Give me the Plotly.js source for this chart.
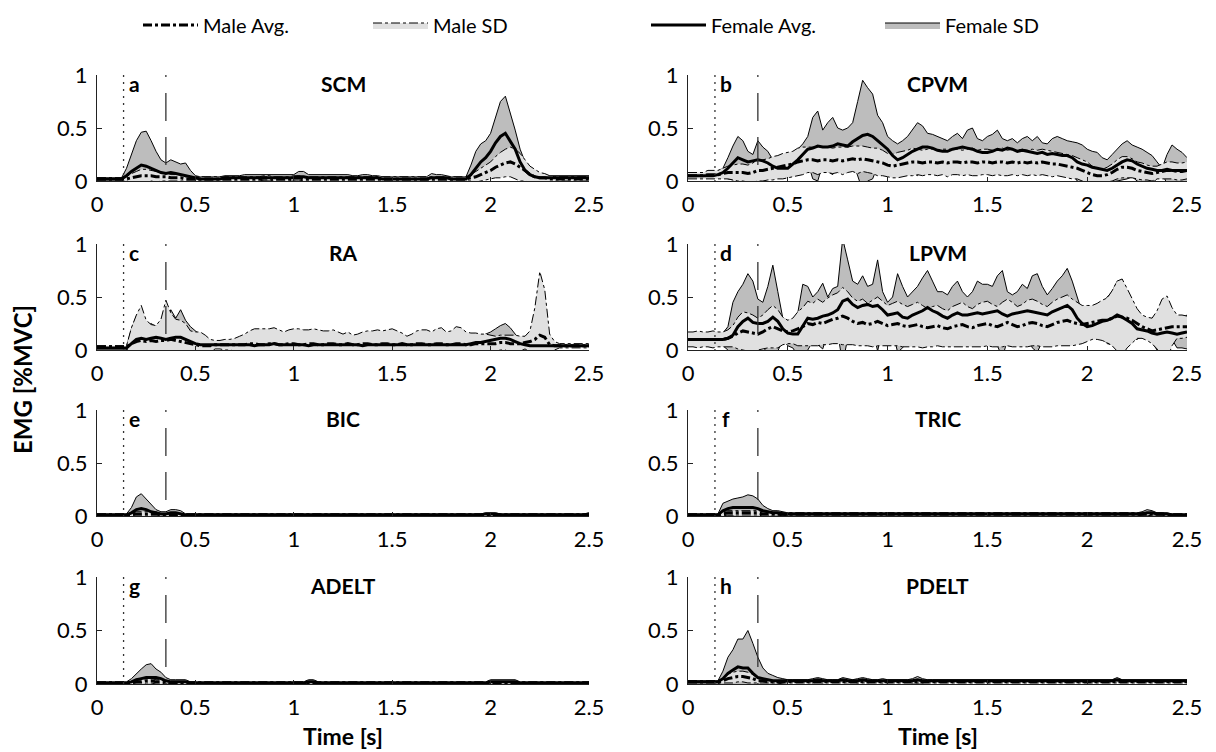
<!DOCTYPE html>
<html><head><meta charset="utf-8">
<script src="https://cdn.plot.ly/plotly-3.0.1.min.js"></script>
<style>html,body{margin:0;padding:0;background:#fff;}#chart{width:1216px;height:752px;}</style>
</head><body><div id="chart"></div>
<script>
const time = [0,0.025,0.05,0.075,0.1,0.125,0.15,0.175,0.2,0.225,
0.25,0.275,0.3,0.325,0.35,0.375,0.4,0.425,0.45,0.475,
0.5,0.525,0.55,0.575,0.6,0.625,0.65,0.675,0.7,0.725,
0.75,0.775,0.8,0.825,0.85,0.875,0.9,0.925,0.95,0.975,
1,1.025,1.05,1.075,1.1,1.125,1.15,1.175,1.2,1.225,
1.25,1.275,1.3,1.325,1.35,1.375,1.4,1.425,1.45,1.475,
1.5,1.525,1.55,1.575,1.6,1.625,1.65,1.675,1.7,1.725,
1.75,1.775,1.8,1.825,1.85,1.875,1.9,1.925,1.95,1.975,
2,2.025,2.05,2.075,2.1,2.125,2.15,2.175,2.2,2.225,
2.25,2.275,2.3,2.325,2.35,2.375,2.4,2.425,2.45,2.475,
2.5];

const muscles = ['SCM','CPVM','RA','LPVM','BIC','TRIC','ADELT','PDELT'];
const panelLetters = ['a','b','c','d','e','f','g','h'];
const seriesNames = ['Male Avg.','Male SD','Female Avg.','Female SD'];
const xTickVals = [0,0.5,1,1.5,2,2.5];
const xTickText = ['0','0.5','1','1.5','2','2.5'];
const yTickVals = [0,0.5,1];
const yTickText = ['0','0.5','1'];
const eventTimes = [0.135, 0.35];

// ---- SCM ----
const scmFemAvg = [0.02,0.02,0.02,0.02,0.02,0.02,0.05,0.09,0.12,0.15,
0.14,0.12,0.10,0.08,0.07,0.08,0.07,0.06,0.05,0.04,
0.03,0.02,0.02,0.02,0.02,0.02,0.03,0.03,0.03,0.03,
0.03,0.03,0.03,0.03,0.03,0.03,0.03,0.03,0.03,0.03,
0.03,0.04,0.04,0.03,0.03,0.03,0.03,0.03,0.03,0.03,
0.03,0.03,0.03,0.03,0.03,0.03,0.03,0.03,0.02,0.02,
0.02,0.02,0.02,0.02,0.02,0.02,0.02,0.02,0.03,0.03,
0.03,0.03,0.02,0.02,0.02,0.02,0.06,0.12,0.18,0.22,
0.28,0.36,0.42,0.45,0.38,0.30,0.18,0.10,0.06,0.04,
0.03,0.03,0.03,0.03,0.03,0.03,0.03,0.03,0.03,0.03,
0.03];
const scmFemSD = [0.01,0.01,0.01,0.01,0.01,0.01,0.07,0.16,0.26,0.31,
0.33,0.26,0.18,0.12,0.10,0.12,0.11,0.10,0.12,0.06,
0.02,0.02,0.02,0.02,0.02,0.02,0.02,0.02,0.02,0.02,
0.03,0.03,0.03,0.03,0.03,0.03,0.03,0.03,0.03,0.03,
0.03,0.05,0.05,0.03,0.03,0.03,0.03,0.03,0.03,0.03,
0.03,0.03,0.02,0.02,0.03,0.03,0.02,0.02,0.02,0.02,
0.02,0.02,0.02,0.02,0.02,0.02,0.02,0.02,0.04,0.03,
0.03,0.02,0.02,0.02,0.02,0.02,0.09,0.16,0.17,0.16,
0.17,0.24,0.33,0.35,0.27,0.18,0.12,0.08,0.06,0.04,
0.03,0.02,0.02,0.02,0.02,0.02,0.02,0.02,0.02,0.02,
0.02];
const scmMaleAvg = [0.02,0.02,0.02,0.02,0.02,0.02,0.02,0.03,0.04,0.05,
0.05,0.05,0.04,0.04,0.04,0.03,0.03,0.03,0.02,0.02,
0.02,0.02,0.02,0.02,0.02,0.02,0.02,0.02,0.02,0.02,
0.02,0.02,0.02,0.02,0.03,0.03,0.02,0.02,0.02,0.02,
0.03,0.03,0.02,0.02,0.02,0.02,0.02,0.02,0.02,0.02,
0.02,0.02,0.02,0.02,0.02,0.02,0.02,0.02,0.02,0.02,
0.02,0.02,0.02,0.02,0.02,0.02,0.02,0.02,0.02,0.02,
0.02,0.02,0.02,0.02,0.02,0.02,0.03,0.04,0.06,0.08,
0.10,0.13,0.15,0.17,0.18,0.16,0.13,0.10,0.06,0.04,
0.03,0.03,0.02,0.02,0.02,0.02,0.02,0.02,0.02,0.02,
0.02];
const scmMaleSD = [0.01,0.01,0.01,0.01,0.01,0.01,0.02,0.04,0.05,0.06,
0.06,0.05,0.05,0.04,0.04,0.03,0.03,0.03,0.02,0.02,
0.02,0.02,0.02,0.02,0.02,0.02,0.02,0.02,0.02,0.02,
0.02,0.02,0.02,0.02,0.02,0.02,0.02,0.02,0.02,0.02,
0.02,0.02,0.02,0.02,0.02,0.02,0.02,0.02,0.02,0.02,
0.02,0.02,0.02,0.02,0.02,0.02,0.02,0.02,0.02,0.02,
0.02,0.02,0.02,0.02,0.02,0.02,0.02,0.02,0.02,0.02,
0.02,0.02,0.02,0.02,0.02,0.02,0.03,0.05,0.06,0.07,
0.08,0.10,0.12,0.13,0.14,0.14,0.13,0.10,0.08,0.07,
0.05,0.04,0.03,0.02,0.02,0.02,0.02,0.02,0.02,0.02,
0.02];

// ---- CPVM ----
const cpvmFemAvg = [0.05,0.05,0.05,0.05,0.05,0.05,0.06,0.08,0.12,0.17,
0.22,0.20,0.18,0.19,0.20,0.19,0.17,0.14,0.12,0.12,
0.12,0.16,0.20,0.25,0.30,0.31,0.33,0.32,0.32,0.33,
0.35,0.34,0.33,0.37,0.40,0.43,0.44,0.42,0.38,0.34,
0.30,0.24,0.20,0.22,0.25,0.28,0.30,0.32,0.32,0.31,
0.29,0.28,0.28,0.30,0.31,0.32,0.31,0.30,0.28,0.27,
0.27,0.28,0.30,0.29,0.31,0.30,0.28,0.29,0.28,0.27,
0.26,0.27,0.25,0.26,0.25,0.24,0.24,0.22,0.18,0.16,
0.15,0.13,0.12,0.11,0.10,0.12,0.15,0.18,0.20,0.19,
0.16,0.14,0.12,0.11,0.10,0.10,0.11,0.10,0.10,0.10,
0.10];
const cpvmFemSD = [0.02,0.02,0.02,0.02,0.02,0.02,0.03,0.04,0.10,0.16,
0.20,0.18,0.10,0.06,0.18,0.13,0.11,0.06,0.06,0.06,
0.08,0.09,0.10,0.10,0.12,0.29,0.33,0.16,0.23,0.27,
0.15,0.14,0.17,0.18,0.35,0.52,0.44,0.40,0.24,0.21,
0.12,0.14,0.15,0.16,0.17,0.20,0.25,0.20,0.13,0.13,
0.13,0.12,0.10,0.12,0.14,0.08,0.17,0.20,0.12,0.11,
0.15,0.16,0.18,0.11,0.07,0.10,0.08,0.11,0.14,0.11,
0.16,0.09,0.10,0.14,0.17,0.16,0.14,0.15,0.18,0.18,
0.15,0.15,0.15,0.11,0.10,0.13,0.15,0.17,0.18,0.15,
0.16,0.16,0.15,0.13,0.08,0.02,0.14,0.24,0.20,0.17,
0.12];
const cpvmMaleAvg = [0.05,0.05,0.05,0.05,0.06,0.06,0.06,0.07,0.08,0.08,
0.08,0.08,0.07,0.08,0.10,0.10,0.11,0.12,0.13,0.14,
0.15,0.16,0.18,0.19,0.20,0.20,0.19,0.20,0.20,0.19,
0.20,0.19,0.20,0.21,0.20,0.21,0.20,0.19,0.18,0.17,
0.15,0.14,0.15,0.16,0.17,0.18,0.18,0.17,0.18,0.18,
0.17,0.18,0.17,0.18,0.18,0.17,0.18,0.18,0.17,0.18,
0.18,0.17,0.18,0.18,0.17,0.18,0.17,0.18,0.17,0.18,
0.17,0.18,0.17,0.16,0.16,0.15,0.14,0.13,0.12,0.10,
0.08,0.06,0.05,0.05,0.06,0.08,0.11,0.13,0.13,0.12,
0.10,0.09,0.08,0.07,0.08,0.09,0.10,0.10,0.09,0.09,
0.10];
const cpvmMaleSD = [0.03,0.03,0.03,0.03,0.04,0.04,0.04,0.05,0.06,0.07,
0.08,0.08,0.08,0.09,0.10,0.10,0.10,0.11,0.11,0.12,
0.12,0.12,0.13,0.13,0.12,0.12,0.13,0.12,0.12,0.12,
0.12,0.13,0.12,0.12,0.13,0.12,0.12,0.12,0.13,0.12,
0.11,0.11,0.12,0.12,0.12,0.13,0.12,0.12,0.12,0.12,
0.12,0.12,0.13,0.12,0.12,0.12,0.12,0.13,0.12,0.12,
0.12,0.12,0.12,0.13,0.12,0.12,0.12,0.12,0.12,0.12,
0.12,0.12,0.12,0.12,0.11,0.11,0.11,0.11,0.10,0.10,
0.10,0.08,0.07,0.06,0.07,0.08,0.09,0.10,0.10,0.09,
0.08,0.08,0.07,0.07,0.06,0.07,0.08,0.08,0.08,0.08,
0.08];

// ---- RA ----
const raFemAvg = [0.02,0.02,0.02,0.02,0.02,0.02,0.02,0.06,0.10,0.11,
0.10,0.11,0.12,0.11,0.10,0.11,0.12,0.12,0.10,0.08,
0.06,0.05,0.05,0.05,0.05,0.05,0.05,0.05,0.05,0.05,
0.05,0.05,0.04,0.05,0.05,0.05,0.06,0.05,0.05,0.05,
0.05,0.05,0.05,0.04,0.05,0.05,0.05,0.05,0.05,0.05,
0.05,0.05,0.05,0.05,0.04,0.05,0.05,0.05,0.05,0.05,
0.05,0.05,0.05,0.05,0.05,0.05,0.05,0.05,0.05,0.05,
0.05,0.05,0.05,0.05,0.05,0.05,0.06,0.07,0.07,0.08,
0.09,0.10,0.11,0.11,0.10,0.08,0.06,0.05,0.04,0.04,
0.04,0.04,0.04,0.04,0.04,0.04,0.04,0.04,0.04,0.04,
0.04];
const raFemSD = [0.01,0.01,0.01,0.01,0.01,0.01,0.01,0.14,0.22,0.19,
0.12,0.14,0.10,0.17,0.15,0.27,0.18,0.26,0.18,0.14,
0.12,0.09,0.03,0.03,0.02,0.03,0.03,0.02,0.03,0.03,
0.03,0.02,0.03,0.03,0.02,0.03,0.03,0.03,0.02,0.03,
0.03,0.03,0.02,0.03,0.03,0.03,0.02,0.03,0.03,0.03,
0.03,0.02,0.03,0.03,0.03,0.02,0.03,0.03,0.03,0.02,
0.03,0.03,0.02,0.03,0.03,0.03,0.03,0.02,0.03,0.03,
0.03,0.03,0.03,0.03,0.03,0.03,0.04,0.05,0.06,0.07,
0.08,0.10,0.12,0.14,0.11,0.07,0.04,0.02,0.02,0.01,
0.01,0.01,0.01,0.01,0.01,0.01,0.01,0.01,0.01,0.01,
0.01];
const raMaleAvg = [0.03,0.03,0.03,0.03,0.03,0.03,0.03,0.06,0.08,0.09,
0.08,0.09,0.08,0.09,0.09,0.10,0.09,0.08,0.07,0.06,
0.05,0.04,0.04,0.04,0.05,0.05,0.05,0.05,0.05,0.05,
0.05,0.06,0.06,0.05,0.05,0.06,0.06,0.05,0.05,0.06,
0.06,0.05,0.05,0.06,0.06,0.05,0.05,0.06,0.06,0.05,
0.05,0.06,0.05,0.05,0.06,0.06,0.05,0.05,0.06,0.06,
0.05,0.05,0.06,0.05,0.05,0.06,0.06,0.05,0.05,0.06,
0.06,0.05,0.05,0.06,0.06,0.05,0.05,0.06,0.06,0.06,
0.06,0.06,0.07,0.07,0.06,0.06,0.06,0.07,0.08,0.10,
0.14,0.12,0.05,0.04,0.04,0.04,0.04,0.04,0.04,0.04,
0.04];
const raMaleSD = [0.01,0.01,0.01,0.01,0.01,0.01,0.01,0.15,0.25,0.33,
0.20,0.15,0.15,0.20,0.38,0.25,0.20,0.20,0.18,0.12,
0.12,0.13,0.10,0.06,0.04,0.04,0.05,0.05,0.06,0.08,
0.10,0.12,0.14,0.15,0.15,0.14,0.15,0.14,0.12,0.13,
0.14,0.15,0.14,0.13,0.14,0.14,0.13,0.12,0.13,0.12,
0.10,0.11,0.09,0.10,0.11,0.12,0.13,0.14,0.12,0.13,
0.15,0.13,0.10,0.08,0.10,0.12,0.13,0.14,0.12,0.14,
0.15,0.12,0.13,0.16,0.15,0.12,0.11,0.10,0.09,0.09,
0.08,0.07,0.07,0.07,0.08,0.08,0.07,0.06,0.10,0.30,
0.60,0.45,0.10,0.04,0.02,0.02,0.02,0.02,0.02,0.02,
0.02];

// ---- LPVM ----
const lpvmFemAvg = [0.10,0.10,0.10,0.10,0.10,0.10,0.10,0.10,0.11,0.14,
0.22,0.27,0.30,0.26,0.25,0.25,0.27,0.31,0.27,0.20,
0.16,0.15,0.15,0.22,0.30,0.29,0.30,0.32,0.33,0.35,
0.38,0.46,0.48,0.43,0.40,0.42,0.43,0.41,0.42,0.38,
0.33,0.34,0.35,0.31,0.30,0.33,0.35,0.37,0.40,0.37,
0.35,0.32,0.30,0.33,0.35,0.33,0.33,0.34,0.35,0.34,
0.35,0.36,0.37,0.34,0.32,0.34,0.35,0.36,0.37,0.36,
0.35,0.34,0.33,0.36,0.38,0.40,0.42,0.38,0.30,0.25,
0.22,0.23,0.25,0.27,0.28,0.30,0.33,0.31,0.28,0.25,
0.20,0.19,0.18,0.16,0.15,0.16,0.17,0.16,0.15,0.16,
0.17];
const lpvmFemSD = [0.05,0.06,0.05,0.06,0.05,0.06,0.05,0.06,0.11,0.31,
0.33,0.35,0.42,0.39,0.23,0.20,0.33,0.49,0.28,0.10,
0.12,0.13,0.20,0.40,0.30,0.21,0.25,0.31,0.17,0.23,
0.22,0.59,0.37,0.22,0.22,0.28,0.17,0.21,0.43,0.17,
0.12,0.16,0.37,0.29,0.20,0.22,0.25,0.31,0.35,0.28,
0.20,0.23,0.22,0.27,0.30,0.22,0.17,0.21,0.30,0.28,
0.27,0.24,0.33,0.41,0.23,0.18,0.20,0.26,0.21,0.34,
0.37,0.26,0.19,0.22,0.27,0.30,0.35,0.27,0.20,0.10,
0.08,0.10,0.10,0.15,0.22,0.25,0.32,0.31,0.24,0.15,
0.10,0.06,0.02,0.09,0.15,0.12,0.03,0.06,0.13,0.14,
0.16];
const lpvmMaleAvg = [0.10,0.10,0.10,0.10,0.10,0.10,0.10,0.10,0.11,0.13,
0.16,0.18,0.17,0.16,0.15,0.17,0.20,0.22,0.20,0.18,
0.17,0.18,0.20,0.22,0.25,0.24,0.26,0.25,0.27,0.29,
0.30,0.32,0.30,0.27,0.25,0.26,0.24,0.25,0.27,0.25,
0.23,0.24,0.25,0.23,0.22,0.23,0.24,0.22,0.21,0.22,
0.23,0.21,0.20,0.22,0.23,0.24,0.22,0.21,0.23,0.24,
0.25,0.23,0.22,0.24,0.26,0.24,0.22,0.23,0.25,0.26,
0.25,0.23,0.22,0.24,0.26,0.27,0.28,0.26,0.25,0.24,
0.25,0.26,0.27,0.28,0.28,0.30,0.32,0.31,0.30,0.28,
0.25,0.22,0.20,0.18,0.19,0.20,0.21,0.22,0.22,0.22,
0.22];
const lpvmMaleSD = [0.07,0.07,0.08,0.07,0.07,0.08,0.07,0.07,0.08,0.10,
0.15,0.18,0.18,0.17,0.15,0.16,0.18,0.20,0.18,0.13,
0.11,0.12,0.16,0.18,0.21,0.20,0.22,0.20,0.22,0.23,
0.24,0.27,0.25,0.22,0.21,0.22,0.20,0.22,0.23,0.21,
0.19,0.20,0.21,0.20,0.19,0.20,0.21,0.20,0.18,0.19,
0.19,0.18,0.17,0.19,0.20,0.21,0.19,0.18,0.20,0.21,
0.21,0.20,0.19,0.21,0.22,0.21,0.19,0.20,0.22,0.22,
0.21,0.20,0.19,0.21,0.22,0.23,0.24,0.22,0.20,0.18,
0.17,0.16,0.17,0.19,0.21,0.26,0.33,0.36,0.28,0.21,
0.14,0.11,0.11,0.12,0.18,0.28,0.30,0.18,0.11,0.11,
0.10];

// ---- BIC ----
const bicFemAvg = [0.01,0.01,0.01,0.01,0.01,0.01,0.01,0.03,0.06,0.07,
0.06,0.04,0.03,0.02,0.02,0.03,0.03,0.02,0.01,0.01,
0.01,0.01,0.01,0.01,0.01,0.01,0.01,0.01,0.01,0.01,
0.01,0.01,0.01,0.01,0.01,0.01,0.01,0.01,0.01,0.01,
0.01,0.01,0.01,0.01,0.01,0.01,0.01,0.01,0.01,0.01,
0.01,0.01,0.01,0.01,0.01,0.01,0.01,0.01,0.01,0.01,
0.01,0.01,0.01,0.01,0.01,0.01,0.01,0.01,0.01,0.01,
0.01,0.01,0.01,0.01,0.01,0.01,0.01,0.01,0.01,0.02,
0.02,0.02,0.01,0.01,0.01,0.01,0.01,0.01,0.01,0.01,
0.01,0.01,0.01,0.01,0.01,0.01,0.01,0.01,0.01,0.01,
0.02];
const bicFemSD = [0.01,0.01,0.01,0.01,0.01,0.01,0.01,0.05,0.12,0.14,
0.10,0.06,0.03,0.02,0.02,0.03,0.03,0.03,0.01,0.01,
0.01,0.01,0.01,0.01,0.01,0.01,0.01,0.01,0.01,0.01,
0.01,0.01,0.01,0.01,0.01,0.01,0.01,0.01,0.01,0.01,
0.01,0.01,0.01,0.01,0.01,0.01,0.01,0.01,0.01,0.01,
0.01,0.01,0.01,0.01,0.01,0.01,0.01,0.01,0.01,0.01,
0.01,0.01,0.01,0.01,0.01,0.01,0.01,0.01,0.01,0.01,
0.01,0.01,0.01,0.01,0.01,0.01,0.01,0.01,0.01,0.01,
0.01,0.01,0.01,0.01,0.01,0.01,0.01,0.01,0.01,0.01,
0.01,0.01,0.01,0.01,0.01,0.01,0.01,0.01,0.01,0.01,
0.01];
const bicMaleAvg = [0.01,0.01,0.01,0.01,0.01,0.01,0.01,0.01,0.02,0.02,
0.02,0.02,0.02,0.01,0.01,0.01,0.01,0.01,0.01,0.01,
0.01,0.01,0.01,0.01,0.01,0.01,0.01,0.01,0.01,0.01,
0.01,0.01,0.01,0.01,0.01,0.01,0.01,0.01,0.01,0.01,
0.01,0.01,0.01,0.01,0.01,0.01,0.01,0.01,0.01,0.01,
0.01,0.01,0.01,0.01,0.01,0.01,0.01,0.01,0.01,0.01,
0.01,0.01,0.01,0.01,0.01,0.01,0.01,0.01,0.01,0.01,
0.01,0.01,0.01,0.01,0.01,0.01,0.01,0.01,0.01,0.01,
0.01,0.01,0.01,0.01,0.01,0.01,0.01,0.01,0.01,0.01,
0.01,0.01,0.01,0.01,0.01,0.01,0.01,0.01,0.01,0.01,
0.01];
const bicMaleSD = [0.01,0.01,0.01,0.01,0.01,0.01,0.01,0.01,0.02,0.02,
0.02,0.02,0.02,0.01,0.01,0.01,0.01,0.01,0.01,0.01,
0.01,0.01,0.01,0.01,0.01,0.01,0.01,0.01,0.01,0.01,
0.01,0.01,0.01,0.01,0.01,0.01,0.01,0.01,0.01,0.01,
0.01,0.01,0.01,0.01,0.01,0.01,0.01,0.01,0.01,0.01,
0.01,0.01,0.01,0.01,0.01,0.01,0.01,0.01,0.01,0.01,
0.01,0.01,0.01,0.01,0.01,0.01,0.01,0.01,0.01,0.01,
0.01,0.01,0.01,0.01,0.01,0.01,0.01,0.01,0.01,0.01,
0.01,0.01,0.01,0.01,0.01,0.01,0.01,0.01,0.01,0.01,
0.01,0.01,0.01,0.01,0.01,0.01,0.01,0.01,0.01,0.01,
0.01];

// ---- TRIC ----
const tricFemAvg = [0.01,0.01,0.01,0.01,0.01,0.01,0.01,0.05,0.07,0.08,
0.08,0.08,0.08,0.08,0.07,0.05,0.04,0.03,0.03,0.02,
0.02,0.02,0.02,0.02,0.02,0.02,0.02,0.02,0.02,0.02,
0.02,0.02,0.02,0.02,0.02,0.02,0.02,0.02,0.02,0.02,
0.02,0.02,0.02,0.02,0.02,0.02,0.02,0.02,0.02,0.02,
0.02,0.02,0.02,0.02,0.02,0.02,0.02,0.02,0.02,0.02,
0.02,0.02,0.02,0.02,0.02,0.02,0.02,0.02,0.02,0.02,
0.02,0.02,0.02,0.02,0.02,0.02,0.02,0.02,0.02,0.02,
0.02,0.02,0.02,0.02,0.02,0.02,0.02,0.02,0.02,0.02,
0.02,0.02,0.03,0.03,0.02,0.02,0.02,0.01,0.01,0.01,
0.01];
const tricFemSD = [0.01,0.01,0.01,0.01,0.01,0.01,0.01,0.07,0.07,0.08,
0.09,0.10,0.12,0.11,0.09,0.05,0.03,0.02,0.02,0.02,
0.01,0.01,0.01,0.01,0.01,0.01,0.01,0.01,0.01,0.01,
0.01,0.01,0.01,0.01,0.01,0.01,0.01,0.01,0.01,0.01,
0.01,0.01,0.01,0.01,0.01,0.01,0.01,0.01,0.01,0.01,
0.01,0.01,0.01,0.01,0.01,0.01,0.01,0.01,0.01,0.01,
0.01,0.01,0.01,0.01,0.01,0.01,0.01,0.01,0.01,0.01,
0.01,0.01,0.01,0.01,0.01,0.01,0.01,0.01,0.01,0.01,
0.01,0.01,0.01,0.01,0.01,0.01,0.01,0.01,0.01,0.01,
0.01,0.02,0.03,0.02,0.01,0.01,0.01,0.01,0.01,0.01,
0.01];
const tricMaleAvg = [0.01,0.01,0.01,0.01,0.01,0.01,0.01,0.02,0.03,0.03,
0.03,0.03,0.03,0.03,0.03,0.02,0.02,0.02,0.02,0.02,
0.02,0.02,0.02,0.02,0.02,0.02,0.02,0.02,0.02,0.02,
0.02,0.02,0.02,0.02,0.02,0.02,0.02,0.02,0.02,0.02,
0.02,0.02,0.02,0.02,0.02,0.02,0.02,0.02,0.02,0.02,
0.02,0.02,0.02,0.02,0.02,0.02,0.02,0.02,0.02,0.02,
0.02,0.02,0.02,0.02,0.02,0.02,0.02,0.02,0.02,0.02,
0.02,0.02,0.02,0.02,0.02,0.02,0.02,0.02,0.02,0.02,
0.02,0.02,0.02,0.02,0.02,0.02,0.02,0.02,0.02,0.02,
0.02,0.02,0.02,0.02,0.02,0.02,0.01,0.01,0.01,0.01,
0.01];
const tricMaleSD = [0.01,0.01,0.01,0.01,0.01,0.01,0.01,0.02,0.02,0.02,
0.02,0.02,0.02,0.02,0.02,0.02,0.02,0.01,0.01,0.01,
0.01,0.01,0.01,0.01,0.01,0.01,0.01,0.01,0.01,0.01,
0.01,0.01,0.01,0.01,0.01,0.01,0.01,0.01,0.01,0.01,
0.01,0.01,0.01,0.01,0.01,0.01,0.01,0.01,0.01,0.01,
0.01,0.01,0.01,0.01,0.01,0.01,0.01,0.01,0.01,0.01,
0.01,0.01,0.01,0.01,0.01,0.01,0.01,0.01,0.01,0.01,
0.01,0.01,0.01,0.01,0.01,0.01,0.01,0.01,0.01,0.01,
0.01,0.01,0.01,0.01,0.01,0.01,0.01,0.01,0.01,0.01,
0.01,0.01,0.01,0.01,0.01,0.01,0.01,0.01,0.01,0.01,
0.01];

// ---- ADELT ----
const adeltFemAvg = [0.01,0.01,0.01,0.01,0.01,0.01,0.01,0.02,0.04,0.05,
0.06,0.06,0.06,0.05,0.03,0.02,0.02,0.02,0.02,0.01,
0.01,0.01,0.01,0.01,0.01,0.01,0.01,0.01,0.01,0.01,
0.01,0.01,0.01,0.01,0.01,0.01,0.01,0.01,0.01,0.01,
0.01,0.01,0.01,0.02,0.02,0.01,0.01,0.01,0.01,0.01,
0.01,0.01,0.01,0.01,0.01,0.01,0.01,0.01,0.01,0.01,
0.01,0.01,0.01,0.01,0.01,0.01,0.01,0.01,0.01,0.01,
0.01,0.01,0.01,0.01,0.01,0.01,0.01,0.01,0.01,0.01,
0.02,0.02,0.02,0.02,0.02,0.02,0.01,0.01,0.01,0.01,
0.01,0.01,0.01,0.01,0.01,0.01,0.01,0.01,0.01,0.01,
0.01];
const adeltFemSD = [0.01,0.01,0.01,0.01,0.01,0.01,0.01,0.03,0.06,0.09,
0.12,0.13,0.08,0.06,0.03,0.02,0.02,0.02,0.02,0.01,
0.01,0.01,0.01,0.01,0.01,0.01,0.01,0.01,0.01,0.01,
0.01,0.01,0.01,0.01,0.01,0.01,0.01,0.01,0.01,0.01,
0.01,0.01,0.01,0.02,0.02,0.01,0.01,0.01,0.01,0.01,
0.01,0.01,0.01,0.01,0.01,0.01,0.01,0.01,0.01,0.01,
0.01,0.01,0.01,0.01,0.01,0.01,0.01,0.01,0.01,0.01,
0.01,0.01,0.01,0.01,0.01,0.01,0.01,0.01,0.01,0.01,
0.02,0.02,0.02,0.02,0.02,0.02,0.01,0.01,0.01,0.01,
0.01,0.01,0.01,0.01,0.01,0.01,0.01,0.01,0.01,0.01,
0.01];
const adeltMaleAvg = [0.01,0.01,0.01,0.01,0.01,0.01,0.01,0.01,0.02,0.02,
0.03,0.03,0.02,0.02,0.02,0.01,0.01,0.01,0.01,0.01,
0.01,0.01,0.01,0.01,0.01,0.01,0.01,0.01,0.01,0.01,
0.01,0.01,0.01,0.01,0.01,0.01,0.01,0.01,0.01,0.01,
0.01,0.01,0.01,0.01,0.01,0.01,0.01,0.01,0.01,0.01,
0.01,0.01,0.01,0.01,0.01,0.01,0.01,0.01,0.01,0.01,
0.01,0.01,0.01,0.01,0.01,0.01,0.01,0.01,0.01,0.01,
0.01,0.01,0.01,0.01,0.01,0.01,0.01,0.01,0.01,0.01,
0.01,0.01,0.01,0.01,0.01,0.01,0.01,0.01,0.01,0.01,
0.01,0.01,0.01,0.01,0.01,0.01,0.01,0.01,0.01,0.01,
0.01];
const adeltMaleSD = [0.01,0.01,0.01,0.01,0.01,0.01,0.01,0.01,0.02,0.02,
0.02,0.02,0.02,0.02,0.01,0.01,0.01,0.01,0.01,0.01,
0.01,0.01,0.01,0.01,0.01,0.01,0.01,0.01,0.01,0.01,
0.01,0.01,0.01,0.01,0.01,0.01,0.01,0.01,0.01,0.01,
0.01,0.01,0.01,0.01,0.01,0.01,0.01,0.01,0.01,0.01,
0.01,0.01,0.01,0.01,0.01,0.01,0.01,0.01,0.01,0.01,
0.01,0.01,0.01,0.01,0.01,0.01,0.01,0.01,0.01,0.01,
0.01,0.01,0.01,0.01,0.01,0.01,0.01,0.01,0.01,0.01,
0.01,0.01,0.01,0.01,0.01,0.01,0.01,0.01,0.01,0.01,
0.01,0.01,0.01,0.01,0.01,0.01,0.01,0.01,0.01,0.01,
0.01];

// ---- PDELT ----
const pdeltFemAvg = [0.02,0.02,0.02,0.02,0.02,0.02,0.02,0.05,0.10,0.13,
0.16,0.15,0.15,0.10,0.06,0.05,0.04,0.03,0.03,0.03,
0.03,0.03,0.03,0.03,0.03,0.03,0.04,0.03,0.03,0.03,
0.03,0.04,0.03,0.03,0.03,0.04,0.03,0.03,0.03,0.03,
0.03,0.03,0.03,0.03,0.03,0.03,0.04,0.03,0.03,0.03,
0.03,0.03,0.03,0.03,0.03,0.03,0.03,0.03,0.03,0.03,
0.03,0.03,0.03,0.03,0.03,0.03,0.03,0.03,0.03,0.03,
0.03,0.03,0.03,0.03,0.03,0.03,0.03,0.03,0.03,0.03,
0.03,0.03,0.03,0.03,0.03,0.03,0.04,0.03,0.03,0.03,
0.03,0.03,0.03,0.03,0.03,0.03,0.03,0.03,0.03,0.03,
0.03];
const pdeltFemSD = [0.01,0.01,0.01,0.01,0.01,0.01,0.01,0.07,0.15,0.19,
0.26,0.27,0.35,0.28,0.19,0.10,0.06,0.05,0.03,0.02,
0.01,0.01,0.01,0.01,0.01,0.02,0.02,0.02,0.01,0.01,
0.01,0.02,0.02,0.01,0.02,0.02,0.02,0.01,0.01,0.02,
0.01,0.01,0.01,0.01,0.01,0.02,0.03,0.02,0.01,0.01,
0.01,0.01,0.01,0.01,0.01,0.01,0.01,0.01,0.01,0.01,
0.01,0.01,0.01,0.01,0.01,0.01,0.01,0.01,0.01,0.01,
0.01,0.01,0.01,0.01,0.01,0.01,0.01,0.01,0.01,0.01,
0.01,0.01,0.01,0.01,0.01,0.01,0.02,0.01,0.01,0.01,
0.01,0.01,0.01,0.01,0.01,0.01,0.01,0.01,0.01,0.01,
0.01];
const pdeltMaleAvg = [0.02,0.02,0.02,0.02,0.02,0.02,0.02,0.03,0.05,0.06,
0.07,0.07,0.06,0.05,0.03,0.03,0.02,0.02,0.02,0.02,
0.02,0.02,0.02,0.02,0.02,0.02,0.02,0.02,0.02,0.02,
0.02,0.02,0.02,0.02,0.02,0.02,0.02,0.02,0.02,0.02,
0.02,0.02,0.02,0.02,0.02,0.02,0.02,0.02,0.02,0.02,
0.02,0.02,0.02,0.02,0.02,0.02,0.02,0.02,0.02,0.02,
0.02,0.02,0.02,0.02,0.02,0.02,0.02,0.02,0.02,0.02,
0.02,0.02,0.02,0.02,0.02,0.02,0.02,0.02,0.02,0.02,
0.02,0.02,0.02,0.02,0.02,0.02,0.02,0.02,0.02,0.02,
0.02,0.02,0.02,0.02,0.02,0.02,0.02,0.02,0.02,0.02,
0.02];
const pdeltMaleSD = [0.01,0.01,0.01,0.01,0.01,0.01,0.01,0.02,0.04,0.05,
0.05,0.05,0.05,0.04,0.02,0.02,0.01,0.01,0.01,0.01,
0.01,0.01,0.01,0.01,0.01,0.01,0.01,0.01,0.01,0.01,
0.01,0.01,0.01,0.01,0.01,0.01,0.01,0.01,0.01,0.01,
0.01,0.01,0.01,0.01,0.01,0.01,0.01,0.01,0.01,0.01,
0.01,0.01,0.01,0.01,0.01,0.01,0.01,0.01,0.01,0.01,
0.01,0.01,0.01,0.01,0.01,0.01,0.01,0.01,0.01,0.01,
0.01,0.01,0.01,0.01,0.01,0.01,0.01,0.01,0.01,0.01,
0.01,0.01,0.01,0.01,0.01,0.01,0.01,0.01,0.01,0.01,
0.01,0.01,0.01,0.01,0.01,0.01,0.01,0.01,0.01,0.01,
0.01];

const panels = [
  {femAvg: scmFemAvg,   femSD: scmFemSD,   maleAvg: scmMaleAvg,   maleSD: scmMaleSD},
  {femAvg: cpvmFemAvg,  femSD: cpvmFemSD,  maleAvg: cpvmMaleAvg,  maleSD: cpvmMaleSD},
  {femAvg: raFemAvg,    femSD: raFemSD,    maleAvg: raMaleAvg,    maleSD: raMaleSD},
  {femAvg: lpvmFemAvg,  femSD: lpvmFemSD,  maleAvg: lpvmMaleAvg,  maleSD: lpvmMaleSD},
  {femAvg: bicFemAvg,   femSD: bicFemSD,   maleAvg: bicMaleAvg,   maleSD: bicMaleSD},
  {femAvg: tricFemAvg,  femSD: tricFemSD,  maleAvg: tricMaleAvg,  maleSD: tricMaleSD},
  {femAvg: adeltFemAvg, femSD: adeltFemSD, maleAvg: adeltMaleAvg, maleSD: adeltMaleSD},
  {femAvg: pdeltFemAvg, femSD: pdeltFemSD, maleAvg: pdeltMaleAvg, maleSD: pdeltMaleSD}
];

// ---- layout geometry ----
const FONT = 'Lato, "Open Sans", "DejaVu Sans", sans-serif';
const W = 1216, H = 752;
const colPx = [[97, 589], [688, 1187]];
const rowPx = [[75, 181], [244, 350], [410, 516], [577, 684]];
const FEM_FILL = '#bdbdbd', MALE_FILL = '#e0e0e0';

const sub = (a, b) => a.map((v, j) => +(v - b[j]).toFixed(3));
const add = (a, b) => a.map((v, j) => +(v + b[j]).toFixed(3));

const traces = [];
const layout = {
  width: W, height: H,
  margin: {l: 0, r: 0, t: 0, b: 0},
  paper_bgcolor: '#fff', plot_bgcolor: 'rgba(0,0,0,0)',
  font: {family: FONT, color: '#000', size: 20},
  shapes: [], annotations: []
};

panels.forEach((p, i) => {
  const k = i + 1;
  const sfx = k === 1 ? '' : String(k);
  const xa = 'x' + sfx, ya = 'y' + sfx;
  const first = i === 0;
  const base = {x: time, xaxis: xa, yaxis: ya, mode: 'lines', hoverinfo: 'skip'};

  traces.push(Object.assign({}, base, {y: sub(p.femAvg, p.femSD), line: {color: '#000', width: 1}, showlegend: false}));
  traces.push(Object.assign({}, base, {y: add(p.femAvg, p.femSD), fill: 'tonexty', fillcolor: FEM_FILL,
    line: {color: '#000', width: 1}, name: seriesNames[3], showlegend: first, legend: 'legend4'}));
  traces.push(Object.assign({}, base, {y: sub(p.maleAvg, p.maleSD), line: {color: '#000', width: 1, dash: 'dashdot'}, showlegend: false}));
  traces.push(Object.assign({}, base, {y: add(p.maleAvg, p.maleSD), fill: 'tonexty', fillcolor: MALE_FILL,
    line: {color: '#000', width: 1, dash: 'dashdot'}, name: seriesNames[1], showlegend: first, legend: 'legend2'}));
  traces.push(Object.assign({}, base, {y: p.maleAvg, line: {color: '#000', width: 3, dash: 'dashdot'},
    name: seriesNames[0], showlegend: first, legend: 'legend'}));
  traces.push(Object.assign({}, base, {y: p.femAvg, line: {color: '#000', width: 3},
    name: seriesNames[2], showlegend: first, legend: 'legend3'}));

  const row = Math.floor(i / 2), col = i % 2;
  layout['xaxis' + sfx] = {
    domain: [colPx[col][0] / W, colPx[col][1] / W], range: [0, 2.5], anchor: ya,
    tickvals: xTickVals, ticktext: xTickText, ticks: 'inside', ticklen: 4, tickcolor: '#222',
    showline: true, linecolor: '#222', linewidth: 1, showgrid: false, zeroline: false,
    tickfont: {size: 22, family: FONT, color: '#000'}, ticklabelstandoff: 4, fixedrange: true
  };
  layout['yaxis' + sfx] = {
    domain: [1 - rowPx[row][1] / H, 1 - rowPx[row][0] / H], range: [0, 1], anchor: xa,
    tickvals: yTickVals, ticktext: yTickText, ticks: 'inside', ticklen: 5, tickcolor: '#222',
    showline: true, linecolor: '#222', linewidth: 1, showgrid: false, zeroline: false,
    tickfont: {size: 22, family: FONT, color: '#000'}, ticklabelstandoff: 4, fixedrange: true
  };

  layout.shapes.push({type: 'line', xref: xa, yref: ya + ' domain', x0: eventTimes[0], x1: eventTimes[0], y0: 1, y1: 0,
    line: {color: '#333', width: 1.3, dash: '2px,5px'}});
  layout.shapes.push({type: 'line', xref: xa, yref: ya + ' domain', x0: eventTimes[1], x1: eventTimes[1], y0: 1, y1: 0,
    line: {color: '#333', width: 1.3, dash: '2px,16px,26px,0px'}});

  layout.annotations.push({xref: xa + ' domain', yref: ya + ' domain', x: 0.076, y: 0.92, xanchor: 'center', yanchor: 'middle',
    text: '<b>' + panelLetters[i] + '</b>', showarrow: false, font: {size: 21, family: FONT, color: '#000'}});
  layout.annotations.push({xref: xa + ' domain', yref: ya + ' domain', x: 0.5, y: 0.92, xanchor: 'center', yanchor: 'middle',
    text: '<b>' + muscles[i] + '</b>', showarrow: false, font: {size: 21, family: FONT, color: '#000'}});
});

layout.annotations.push({xref: 'paper', yref: 'paper', x: (colPx[0][0] + colPx[0][1]) / 2 / W, y: 1 - 736 / H,
  xanchor: 'center', yanchor: 'middle', text: '<b>Time [s]</b>', showarrow: false, font: {size: 23, family: FONT}});
layout.annotations.push({xref: 'paper', yref: 'paper', x: (colPx[1][0] + colPx[1][1]) / 2 / W, y: 1 - 736 / H,
  xanchor: 'center', yanchor: 'middle', text: '<b>Time [s]</b>', showarrow: false, font: {size: 23, family: FONT}});
layout.annotations.push({xref: 'paper', yref: 'paper', x: 22 / W, y: 1 - 380 / H, textangle: -90,
  xanchor: 'center', yanchor: 'middle', text: '<b>EMG [%MVC]</b>', showarrow: false, font: {size: 24, family: FONT}});

const legendBase = {orientation: 'h', y: 1 - 25 / H, yanchor: 'middle', xanchor: 'left',
  bgcolor: 'rgba(0,0,0,0)', borderwidth: 0, font: {size: 20, family: FONT, color: '#000'}, itemwidth: 55};
layout.legend  = Object.assign({}, legendBase, {x: 138 / W});
layout.legend2 = Object.assign({}, legendBase, {x: 368 / W});
layout.legend3 = Object.assign({}, legendBase, {x: 646 / W});
layout.legend4 = Object.assign({}, legendBase, {x: 880 / W});

Plotly.newPlot('chart', traces, layout, {displayModeBar: false, staticPlot: true});
</script>
</body></html>
